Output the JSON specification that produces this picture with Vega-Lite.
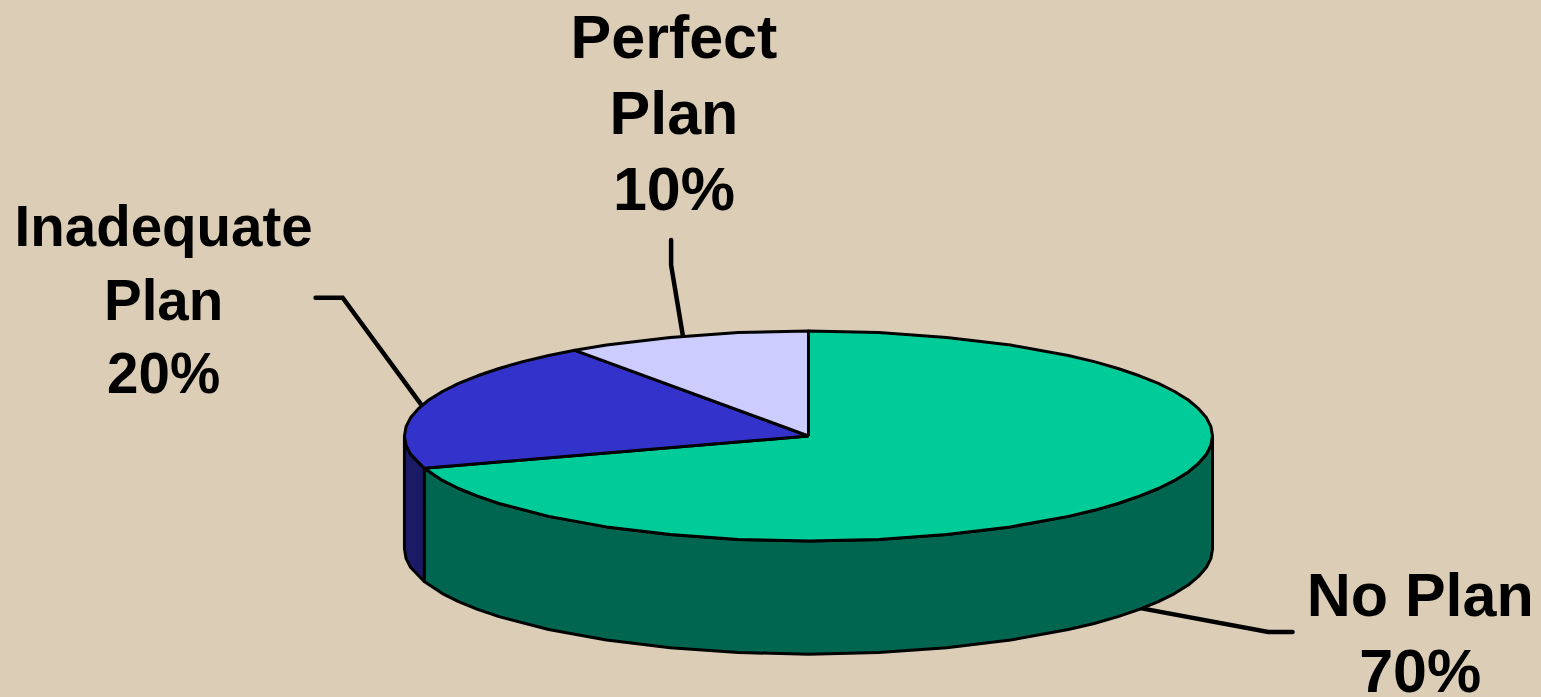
{"$schema":"https://vega.github.io/schema/vega-lite/v6.json","width":1541,"height":697,"padding":0,"autosize":"none","background":"#DBCDB6","view":{"stroke":null},
"datasets":{
"shapes":[
{"part":"side no plan","i":1,"x":100,"y":0},{"part":"side no plan","i":1.5,"x":99.6,"y":-2.3},{"part":"side no plan","i":2,"x":98.5,"y":-4.5},{"part":"side no plan","i":2.5,"x":96.6,"y":-6.7},{"part":"side no plan","i":3,"x":94,"y":-8.9},{"part":"side no plan","i":3.5,"x":90.6,"y":-11},{"part":"side no plan","i":4,"x":86.6,"y":-13},{"part":"side no plan","i":4.5,"x":81.9,"y":-14.9},{"part":"side no plan","i":5,"x":76.6,"y":-16.7},{"part":"side no plan","i":5.5,"x":70.7,"y":-18.4},{"part":"side no plan","i":6,"x":64.3,"y":-19.9},{"part":"side no plan","i":7,"x":50,"y":-22.5},{"part":"side no plan","i":8,"x":34.2,"y":-24.4},{"part":"side no plan","i":9,"x":17.4,"y":-25.6},{"part":"side no plan","i":10,"x":0,"y":-26},{"part":"side no plan","i":11,"x":-17.4,"y":-25.6},{"part":"side no plan","i":12,"x":-34.2,"y":-24.4},{"part":"side no plan","i":13,"x":-50,"y":-22.5},{"part":"side no plan","i":14,"x":-64.3,"y":-19.9},{"part":"side no plan","i":15,"x":-76.6,"y":-16.7},{"part":"side no plan","i":15.5,"x":-81.9,"y":-14.9},{"part":"side no plan","i":16,"x":-86.6,"y":-13},{"part":"side no plan","i":16.5,"x":-90.6,"y":-11},{"part":"side no plan","i":17,"x":-95.1,"y":-8},
{"part":"side no plan","i":18,"x":-95.1,"y":-36},{"part":"side no plan","i":18.5,"x":-90.6,"y":-39},{"part":"side no plan","i":19,"x":-86.6,"y":-41},{"part":"side no plan","i":19.5,"x":-81.9,"y":-42.9},{"part":"side no plan","i":20,"x":-76.6,"y":-44.7},{"part":"side no plan","i":21,"x":-64.3,"y":-47.9},{"part":"side no plan","i":22,"x":-50,"y":-50.5},{"part":"side no plan","i":23,"x":-34.2,"y":-52.4},{"part":"side no plan","i":24,"x":-17.4,"y":-53.6},{"part":"side no plan","i":25,"x":0,"y":-54},{"part":"side no plan","i":26,"x":17.4,"y":-53.6},{"part":"side no plan","i":27,"x":34.2,"y":-52.4},{"part":"side no plan","i":28,"x":50,"y":-50.5},{"part":"side no plan","i":29,"x":64.3,"y":-47.9},{"part":"side no plan","i":29.5,"x":70.7,"y":-46.4},{"part":"side no plan","i":30,"x":76.6,"y":-44.7},{"part":"side no plan","i":30.5,"x":81.9,"y":-42.9},{"part":"side no plan","i":31,"x":86.6,"y":-41},{"part":"side no plan","i":31.5,"x":90.6,"y":-39},{"part":"side no plan","i":32,"x":94,"y":-36.9},{"part":"side no plan","i":32.5,"x":96.6,"y":-34.7},{"part":"side no plan","i":33,"x":98.5,"y":-32.5},{"part":"side no plan","i":33.5,"x":99.6,"y":-30.3},{"part":"side no plan","i":34,"x":100,"y":-28},{"part":"side no plan","i":35,"x":100,"y":0},
{"part":"side inadequate","i":1,"x":-100,"y":0},{"part":"side inadequate","i":1.5,"x":-99.6,"y":-2.3},{"part":"side inadequate","i":2,"x":-98.5,"y":-4.5},{"part":"side inadequate","i":3,"x":-95.1,"y":-8},{"part":"side inadequate","i":4,"x":-95.1,"y":-36},{"part":"side inadequate","i":5,"x":-98.5,"y":-32.5},{"part":"side inadequate","i":5.5,"x":-99.6,"y":-30.3},{"part":"side inadequate","i":6,"x":-100,"y":-28},{"part":"side inadequate","i":7,"x":-100,"y":0},
{"part":"top no plan","i":1,"x":0,"y":0},{"part":"top no plan","i":2,"x":0,"y":26},{"part":"top no plan","i":3,"x":17.4,"y":25.6},{"part":"top no plan","i":4,"x":34.2,"y":24.4},{"part":"top no plan","i":5,"x":50,"y":22.5},{"part":"top no plan","i":6,"x":64.3,"y":19.9},{"part":"top no plan","i":6.5,"x":70.7,"y":18.4},{"part":"top no plan","i":7,"x":76.6,"y":16.7},{"part":"top no plan","i":7.5,"x":81.9,"y":14.9},{"part":"top no plan","i":8,"x":86.6,"y":13},{"part":"top no plan","i":8.5,"x":90.6,"y":11},{"part":"top no plan","i":9,"x":94,"y":8.9},{"part":"top no plan","i":9.5,"x":96.6,"y":6.7},{"part":"top no plan","i":10,"x":98.5,"y":4.5},{"part":"top no plan","i":10.5,"x":99.6,"y":2.3},{"part":"top no plan","i":11,"x":100,"y":0},{"part":"top no plan","i":11.5,"x":99.6,"y":-2.3},{"part":"top no plan","i":12,"x":98.5,"y":-4.5},{"part":"top no plan","i":12.5,"x":96.6,"y":-6.7},{"part":"top no plan","i":13,"x":94,"y":-8.9},{"part":"top no plan","i":13.5,"x":90.6,"y":-11},{"part":"top no plan","i":14,"x":86.6,"y":-13},{"part":"top no plan","i":14.5,"x":81.9,"y":-14.9},{"part":"top no plan","i":15,"x":76.6,"y":-16.7},{"part":"top no plan","i":15.5,"x":70.7,"y":-18.4},{"part":"top no plan","i":16,"x":64.3,"y":-19.9},{"part":"top no plan","i":17,"x":50,"y":-22.5},{"part":"top no plan","i":18,"x":34.2,"y":-24.4},{"part":"top no plan","i":19,"x":17.4,"y":-25.6},{"part":"top no plan","i":20,"x":0,"y":-26},{"part":"top no plan","i":21,"x":-17.4,"y":-25.6},{"part":"top no plan","i":22,"x":-34.2,"y":-24.4},{"part":"top no plan","i":23,"x":-50,"y":-22.5},{"part":"top no plan","i":24,"x":-64.3,"y":-19.9},{"part":"top no plan","i":25,"x":-76.6,"y":-16.7},{"part":"top no plan","i":25.5,"x":-81.9,"y":-14.9},{"part":"top no plan","i":26,"x":-86.6,"y":-13},{"part":"top no plan","i":26.5,"x":-90.6,"y":-11},{"part":"top no plan","i":27,"x":-95.1,"y":-8},{"part":"top no plan","i":28,"x":0,"y":0},
{"part":"top inadequate","i":1,"x":0,"y":0},{"part":"top inadequate","i":2,"x":-95.1,"y":-8},{"part":"top inadequate","i":3,"x":-98.5,"y":-4.5},{"part":"top inadequate","i":3.5,"x":-99.6,"y":-2.3},{"part":"top inadequate","i":4,"x":-100,"y":0},{"part":"top inadequate","i":4.5,"x":-99.6,"y":2.3},{"part":"top inadequate","i":5,"x":-98.5,"y":4.5},{"part":"top inadequate","i":5.5,"x":-96.6,"y":6.7},{"part":"top inadequate","i":6,"x":-94,"y":8.9},{"part":"top inadequate","i":6.5,"x":-90.6,"y":11},{"part":"top inadequate","i":7,"x":-86.6,"y":13},{"part":"top inadequate","i":7.5,"x":-81.9,"y":14.9},{"part":"top inadequate","i":8,"x":-76.6,"y":16.7},{"part":"top inadequate","i":8.3,"x":-70.7,"y":18.4},{"part":"top inadequate","i":8.6,"x":-64.3,"y":19.9},{"part":"top inadequate","i":9,"x":-57.8,"y":21.2},{"part":"top inadequate","i":10,"x":0,"y":0},
{"part":"top perfect","i":1,"x":0,"y":0},{"part":"top perfect","i":2,"x":-57.8,"y":21.2},{"part":"top perfect","i":3,"x":-50,"y":22.5},{"part":"top perfect","i":4,"x":-34.2,"y":24.4},{"part":"top perfect","i":5,"x":-17.4,"y":25.6},{"part":"top perfect","i":6,"x":0,"y":26},{"part":"top perfect","i":7,"x":0,"y":0}
],
"leaders":[
{"slice":"Perfect Plan","i":1,"x":-34,"y":48.5},{"slice":"Perfect Plan","i":2,"x":-34,"y":42.3},{"slice":"Perfect Plan","i":3,"x":-31,"y":24.3},
{"slice":"Inadequate Plan","i":1,"x":-122,"y":34.2},{"slice":"Inadequate Plan","i":2,"x":-115.3,"y":34.2},{"slice":"Inadequate Plan","i":3,"x":-95.8,"y":7.7},
{"slice":"No Plan","i":1,"x":80.5,"y":-42.3},{"slice":"No Plan","i":2,"x":113.8,"y":-48.5},{"slice":"No Plan","i":3,"x":119.8,"y":-48.5}
],
"labels":[
{"label":"Perfect\nPlan\n10%","share":10,"x":-33.3,"y":98},
{"label":"Inadequate\nPlan\n20%","share":20,"x":-159.6,"y":51.2},
{"label":"No Plan\n70%","share":70,"x":151.4,"y":-40}
]},
"layer":[
{"data":{"name":"leaders"},"mark":{"type":"line","stroke":"#000000","strokeWidth":4.5,"strokeCap":"round"},"encoding":{"x":{"field":"x","type":"quantitative","scale":{"domain":[-200.1,181.3],"nice":false,"zero":false},"axis":null},"y":{"field":"y","type":"quantitative","scale":{"domain":[-64.6,107.9],"nice":false,"zero":false},"axis":null},"detail":{"field":"slice"},"order":{"field":"i"}}},
{"data":{"name":"shapes"},"mark":{"type":"line","stroke":"#000000","strokeWidth":3,"strokeJoin":"round"},"encoding":{"x":{"field":"x","type":"quantitative","axis":null},"y":{"field":"y","type":"quantitative","axis":null},"detail":{"field":"part"},"order":{"field":"i"},"fill":{"field":"part","type":"nominal","legend":null,"scale":{"domain":["side no plan","side inadequate","top no plan","top inadequate","top perfect"],"range":["#006650","#1A1A66","#00CC99","#3333CC","#CCCCFF"]}}}},
{"data":{"name":"labels"},"transform":[{"filter":"datum.share !== 20"}],"mark":{"type":"text","font":"Liberation Sans","fontWeight":"bold","fontSize":61,"lineBreak":"\n","lineHeight":76,"align":"center","baseline":"middle","color":"#000000"},"encoding":{"x":{"field":"x","type":"quantitative","axis":null},"y":{"field":"y","type":"quantitative","axis":null},"text":{"field":"label"}}},
{"data":{"name":"labels"},"transform":[{"filter":"datum.share === 20"}],"mark":{"type":"text","font":"Liberation Sans","fontWeight":"bold","fontSize":56.5,"lineBreak":"\n","lineHeight":73.5,"align":"center","baseline":"middle","color":"#000000"},"encoding":{"x":{"field":"x","type":"quantitative","axis":null},"y":{"field":"y","type":"quantitative","axis":null},"text":{"field":"label"}}}
]}
